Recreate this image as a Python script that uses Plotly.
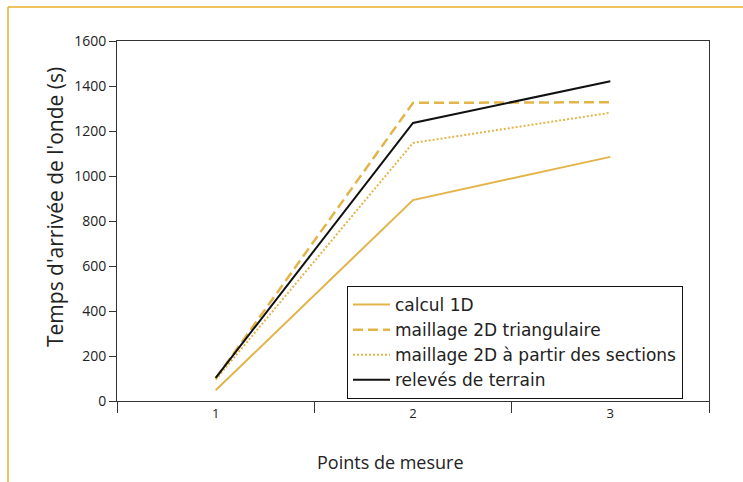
import plotly.graph_objects as go

categories = ["1", "2", "3"]
calcul_1d = [48, 893, 1085]
maillage_tri = [100, 1325, 1328]
maillage_sections = [95, 1147, 1281]
releves = [103, 1236, 1421]
y_ticks = [0, 200, 400, 600, 800, 1000, 1200, 1400, 1600]

names = ["calcul 1D", "maillage 2D triangulaire",
         "maillage 2D à partir des sections", "relevés de terrain"]
gold = "#E3B44A"

fig = go.Figure()
fig.add_trace(go.Scatter(x=categories, y=calcul_1d, mode="lines", name=names[0],
                         line=dict(color=gold, width=2)))
fig.add_trace(go.Scatter(x=categories, y=maillage_tri, mode="lines", name=names[1],
                         line=dict(color=gold, width=2.5, dash="10px,5px")))
fig.add_trace(go.Scatter(x=categories, y=maillage_sections, mode="lines", name=names[2],
                         line=dict(color=gold, width=2, dash="2px,2px")))
fig.add_trace(go.Scatter(x=categories, y=releves, mode="lines", name=names[3],
                         line=dict(color="#111111", width=2)))

L, R, T, B = 117, 34, 41, 81
W, H = 743, 482
pw, ph = W - L - R, H - T - B

def px(x):
    return (x - L) / pw

def py(y):
    return (H - B - y) / ph

font = "'Open Sans', Lato, sans-serif"
txt = "#222222"

fig.update_layout(
    width=W, height=H,
    margin=dict(l=L, r=R, t=T, b=B),
    paper_bgcolor="white", plot_bgcolor="white",
    font=dict(family=font, color=txt),
    showlegend=True,
    legend=dict(x=px(347), y=py(286), xanchor="left", yanchor="top",
                bordercolor="#111111", borderwidth=1, bgcolor="white",
                itemwidth=37,
                font=dict(size=17, family="'DejaVu Sans', sans-serif", color=txt),
                tracegroupgap=0),
    xaxis=dict(type="category", range=[-0.5, 2.5], showgrid=False, zeroline=False,
               showline=True, linecolor="#333333", linewidth=1, mirror=True,
               ticks="outside", tickson="boundaries", ticklen=11, tickcolor="#333333",
               tickfont=dict(size=13, family=font, color=txt)),
    yaxis=dict(range=[0, 1600], tickvals=y_ticks, showgrid=False, zeroline=False,
               showline=True, linecolor="#333333", linewidth=1, mirror=True,
               ticks="outside", ticklen=7, tickcolor="#333333",
               tickfont=dict(size=14, family=font, color=txt)),
    annotations=[
        dict(text="Points de mesure", x=px(390), y=py(462), xref="paper", yref="paper",
             xanchor="center", yanchor="middle",
             showarrow=False, font=dict(size=18, family=font, color=txt)),
        dict(text="Temps d'arrivée de l'onde (s)", x=px(55), y=py(207), xref="paper",
             yref="paper", xanchor="center", yanchor="middle",
             showarrow=False, textangle=-90,
             font=dict(size=21, family=font, color=txt)),
    ],
    shapes=[
        dict(type="line", xref="paper", yref="paper", x0=px(8), x1=px(W + 5),
             y0=py(7), y1=py(7), line=dict(color="#E8AE2A", width=1.5)),
        dict(type="line", xref="paper", yref="paper", x0=px(8), x1=px(8),
             y0=py(7), y1=py(H + 5), line=dict(color="#E8AE2A", width=1.5)),
    ],
)

fig.write_html("out.html", config={"displayModeBar": False},
               post_script="document.body.style.margin='0';document.body.style.overflow='hidden';")
